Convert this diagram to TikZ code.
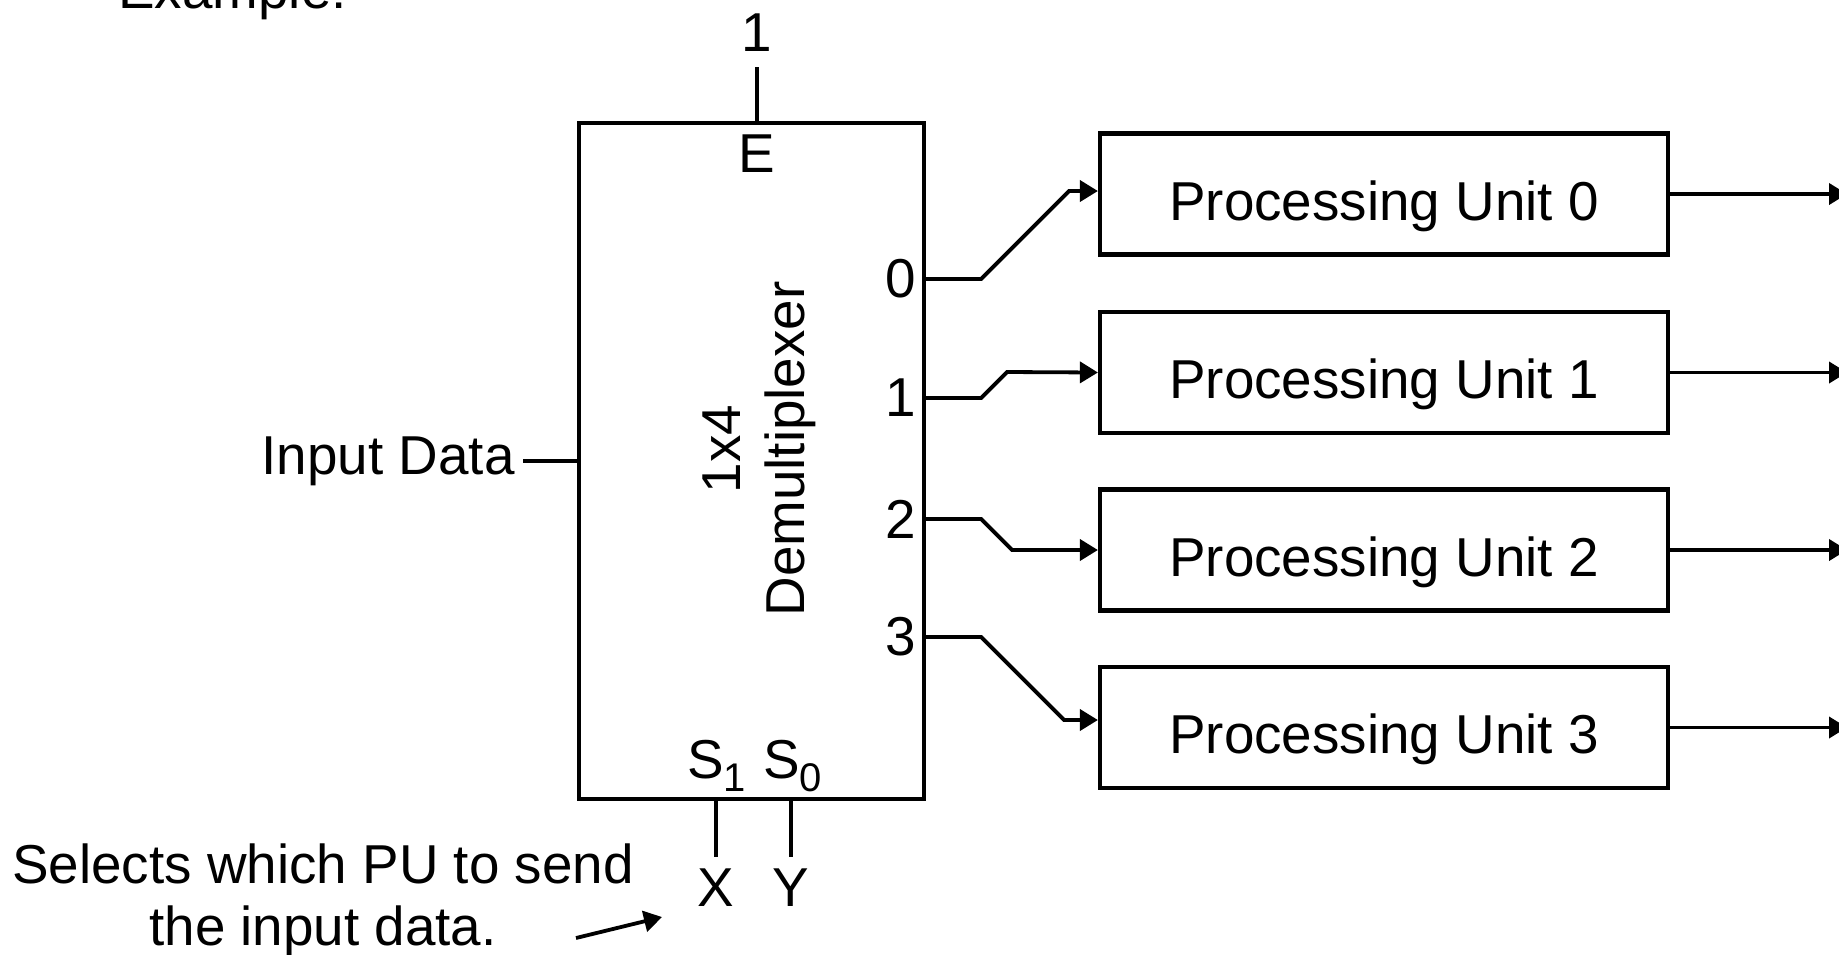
\documentclass[tikz,border=0pt]{standalone}
\usepackage{fontspec}
\setmainfont{Liberation Sans}
\usetikzlibrary{arrows.meta,calc}
\begin{document}
\begin{tikzpicture}[x=0.5pt,y=-0.5pt,
  every node/.style={font=\fontsize{27.4}{31}\selectfont, inner sep=0pt},
  wire/.style={line width=1.9pt},
  arr/.style={wire, -{Triangle[length=9pt,width=10.5pt]}},
  blk/.style={draw, line width=2.1pt},
  pu/.style={blk, minimum width=284pt, minimum height=60.5pt,
             text height=26pt, text depth=0pt}]

% canvas
\useasboundingbox (0,0) rectangle (1839,954);
\fill[white] (0,0) rectangle (1839,954);
\clip (0,0) rectangle (1839,954);

\node[anchor=base west] (ex) at (118,8) {Example:};

% demultiplexer block
\node[blk, minimum width=172.5pt, minimum height=338pt] (dmx) at (751.5,461) {};
\node[anchor=base] (elbl) at (757,172) {E};
\node[anchor=south, inner ysep=7.5pt] (one) at (757,67) {1};
\draw[wire] (one.south) -- (one.south |- dmx.north);

\node[rotate=90, anchor=base] (ratio) at (740,449) {1x4};
\node[rotate=90, anchor=base] (dname) at (804,449) {Demultiplexer};

% data input
\node[anchor=east, inner xsep=4pt] (inp) at (523,461) {Input Data};
\draw[wire] (inp.east) -- (dmx.west);

% select lines
\node[anchor=base west] (s1) at (687,778) {S\raisebox{-6.5pt}{\fontsize{20}{20}\selectfont 1}};
\node[anchor=base west] (s0) at (763,778) {S\raisebox{-6.5pt}{\fontsize{20}{20}\selectfont 0}};
\node[anchor=north, inner ysep=5.5pt] (xl) at (716,857) {X};
\node[anchor=north, inner ysep=5.5pt] (yl) at (791,857) {Y};
\draw[wire] (xl.north |- dmx.south) -- (xl.north);
\draw[wire] (yl.north |- dmx.south) -- (yl.north);

\node[anchor=north, align=center] (hint) at (323,843) {Selects which PU to send\\the input data.};
\coordinate (hintTail) at (576,938);
\coordinate (hintTip) at (662,917);
\draw[arr] (hintTail) -- (hintTip);

% processing units
\node[pu] (pu0) at (1384,194) {Processing Unit 0};
\node[pu] (pu1) at (1384,372.5) {Processing Unit 1};
\node[pu] (pu2) at (1384,550) {Processing Unit 2};
\node[pu] (pu3) at (1384,727.5) {Processing Unit 3};

% demultiplexer outputs
\coordinate (o0) at (dmx.east |- 0,279);
\coordinate (o1) at (dmx.east |- 0,398);
\coordinate (o2) at (dmx.east |- 0,519);
\coordinate (o3) at (dmx.east |- 0,637);
\node[anchor=east] (l0) at ($(o0)+(-10,0)$) {0};
\node[anchor=east] (l1) at ($(o1)+(-10,0)$) {1};
\node[anchor=east] (l2) at ($(o2)+(-10,0)$) {2};
\node[anchor=east] (l3) at ($(o3)+(-10,0)$) {3};

\draw[arr] (o0) -- ++(55,0) -- ++(88,-88) -- (pu0.west |- 0,191);
\draw[arr] (o1) -- ++(55,0) -- ++(26,-26) -- (pu1.west);
\draw[arr] (o2) -- ++(55,0) -- ++(31,31) -- (pu2.west);
\draw[arr] (o3) -- ++(55,0) -- ++(83,83) -- (pu3.west |- 0,720);

% unit outputs
\foreach \k in {0,1,2,3}
  \draw[arr] (pu\k.east) -- (pu\k.east -| 1847,0);

\end{tikzpicture}
\end{document}
